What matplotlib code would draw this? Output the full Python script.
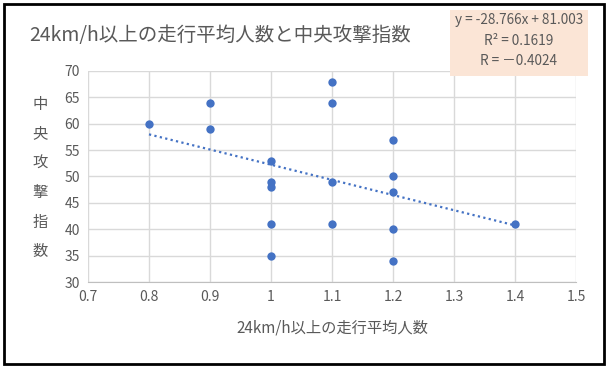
import matplotlib.pyplot as plt
import numpy as np
from matplotlib.patches import Rectangle

plt.rcParams['font.family'] = ['Noto Sans CJK JP', 'DejaVu Sans']

# 24km/h以上の走行平均人数
runners = [0.8, 0.9, 0.9, 1.0, 1.0, 1.0, 1.0, 1.0,
           1.1, 1.1, 1.1, 1.1, 1.2, 1.2, 1.2, 1.2, 1.2, 1.4]
# 中央攻撃指数
attack = [60, 64, 59, 53, 49, 48, 41, 35,
          68, 64, 49, 41, 57, 50, 47, 40, 34, 41]

x_ticks = [0.7, 0.8, 0.9, 1, 1.1, 1.2, 1.3, 1.4, 1.5]
y_ticks = [30, 35, 40, 45, 50, 55, 60, 65, 70]

blue = '#4472C4'
gray = '#595959'

fig = plt.figure(figsize=(6.09, 3.68), dpi=100)
ax = fig.add_axes([88/609, 1-282/368, (576-88)/609, (282-71)/368])

ax.scatter(runners, attack, s=36, color=blue, zorder=3, linewidths=0)

# 近似直線
k, b = np.polyfit(runners, attack, 1)
xs = np.array([min(runners), max(runners)])
ax.plot(xs, k*xs + b, color=blue, linestyle=(0, (1, 1.5)), linewidth=1.6, zorder=2)

ax.set_xlim(0.7, 1.5)
ax.set_ylim(30, 70)
ax.set_xticks(x_ticks)
ax.set_xticklabels([str(t) for t in x_ticks])
ax.set_yticks(y_ticks)
ax.grid(True, color='#D9D9D9', linewidth=1)
ax.set_axisbelow(True)
for s in ['top', 'right', 'left']:
    ax.spines[s].set_visible(False)
ax.spines['bottom'].set_color('#BFBFBF')
ax.tick_params(length=0, labelsize=10, colors=gray, pad=6)

fig.text(29/609, 1-35/368, '24km/h以上の走行平均人数と中央攻撃指数', fontsize=14,
         color=gray, va='center', ha='left')
fig.text(40/609, 1-178/368, '\n'.join('中央攻撃指数'), fontsize=11, color=gray,
         ha='center', va='center', linespacing=1.95)
fig.text(332/609, 1-328/368, '24km/h以上の走行平均人数', fontsize=11, color=gray,
         ha='center', va='center')

# 回帰式の枠
fig.patches.append(Rectangle((450/609, 1-76/368), 138/609, 66/368, transform=fig.transFigure,
                             facecolor='#FBE5D6', edgecolor='none', zorder=1))
fig.text(519/609, 1-20/368, 'y = -28.766x + 81.003', fontsize=9.8, color=gray, ha='center', va='center')
fig.text(519/609, 1-41/368, 'R² = 0.1619', fontsize=9.8, color=gray, ha='center', va='center')
fig.text(519/609, 1-61/368, 'R = －0.4024', fontsize=9.8, color=gray, ha='center', va='center')

# 外枠
fig.patches.append(Rectangle((4/609, 4/368), 600/609, 360/368, transform=fig.transFigure,
                             facecolor='none', edgecolor='black', linewidth=2, zorder=5))

fig.savefig('out.png', dpi=100)
